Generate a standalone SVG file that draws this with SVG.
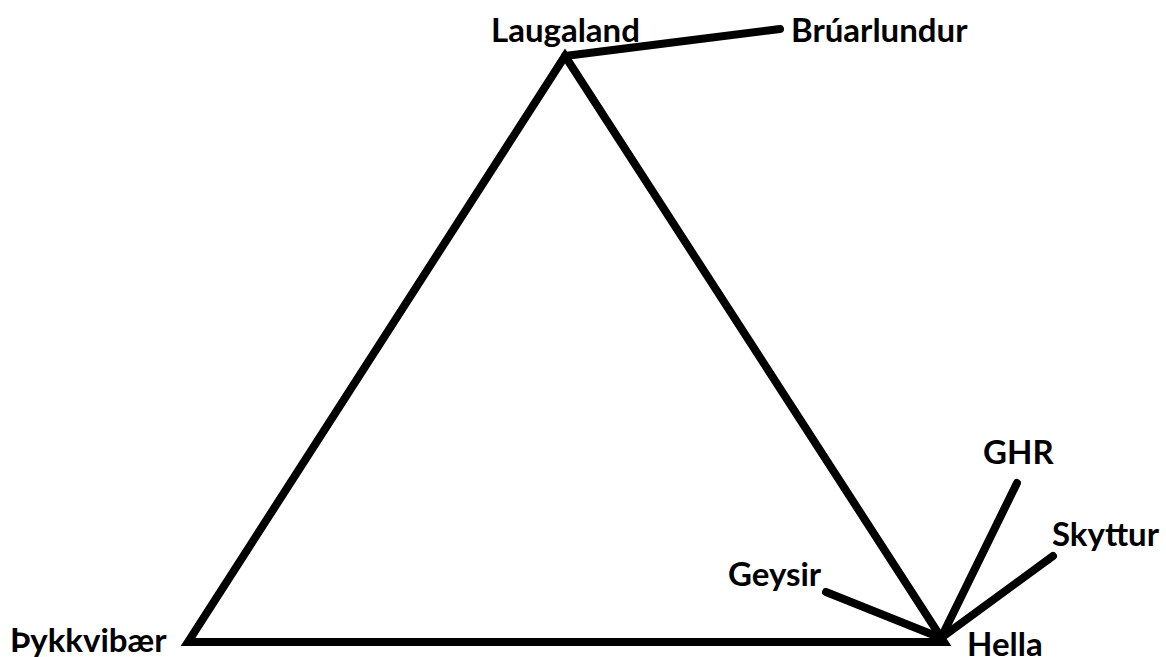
<svg xmlns="http://www.w3.org/2000/svg" width="1166" height="657" viewBox="0 0 1166 657">
<style>
.lbl{font-family:Lato,"Open Sans","DejaVu Sans",sans-serif;font-weight:bold;font-size:33px;fill:#000}
.edge{stroke:#000;stroke-width:8;stroke-linecap:round;stroke-linejoin:miter;fill:none}
</style>
<rect width="1166" height="657" fill="#fff"/>
<g id="connectors">
<path class="edge" d="M565 56 L188 642 L944 642 Z"/>
<line class="edge" x1="565" y1="56" x2="780" y2="29"/>
<line class="edge" x1="941" y1="638" x2="1017" y2="483"/>
<line class="edge" x1="941" y1="638" x2="1053" y2="556"/>
<line class="edge" x1="941" y1="638" x2="826" y2="592"/>
</g>
<g id="laugaland"><text class="lbl" x="491" y="42">Laugaland</text></g>
<g id="bruarlundur"><text class="lbl" x="791" y="42">Brúarlundur</text></g>
<g id="thykkvibaer"><text class="lbl" x="10" y="652">Þykkvibær</text></g>
<g id="hella"><text class="lbl" x="967" y="656">Hella</text></g>
<g id="geysir"><text class="lbl" x="728" y="586">Geysir</text></g>
<g id="ghr"><text class="lbl" x="983" y="464">GHR</text></g>
<g id="skyttur"><text class="lbl" x="1052" y="546">Skyttur</text></g>
</svg>
